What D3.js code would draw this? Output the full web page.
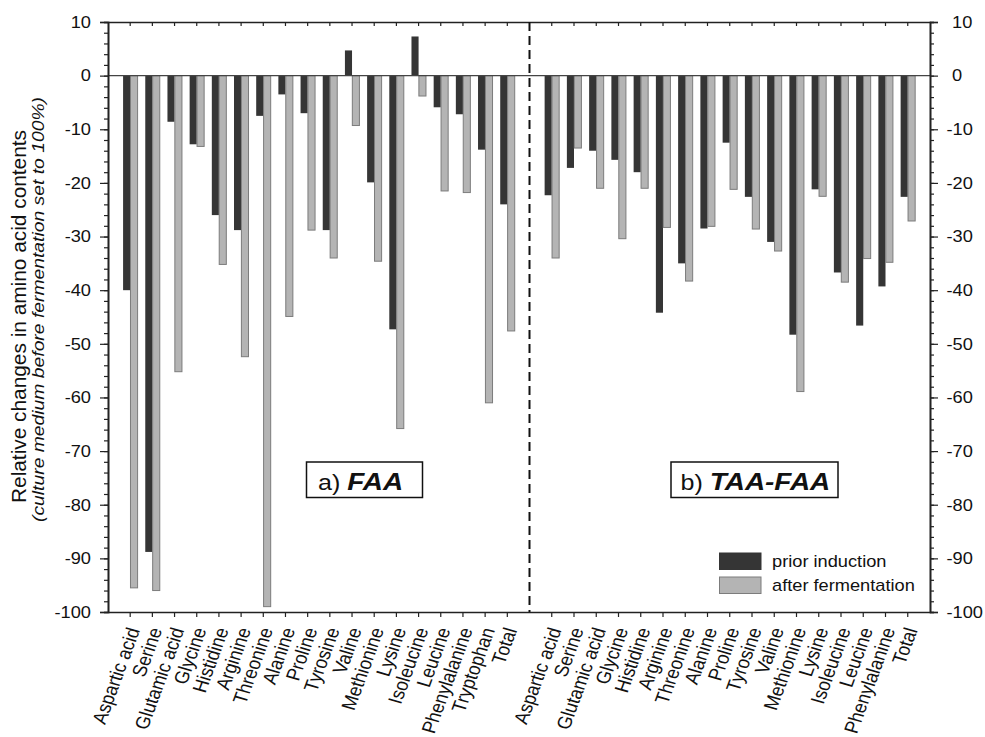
<!DOCTYPE html>
<html><head><meta charset="utf-8">
<script src="https://cdn.jsdelivr.net/npm/d3@7"></script>
<style>
body{margin:0;background:#fff}
svg{display:block}
text{font-family:"Liberation Sans",Arial,Helvetica,sans-serif;fill:#111}
</style>
</head><body>
<svg id="chart" width="985" height="737"></svg>
<script>
// ---------------- data ----------------
const categoriesA = ["Aspartic acid","Serine","Glutamic acid","Glycine","Histidine","Arginine","Threonine","Alanine","Proline","Tyrosine","Valine","Methionine","Lysine","Isoleucine","Leucine","Phenylalanine","Tryptophan","Total"];
const priorA = [-40,-88.8,-8.6,-12.8,-26,-28.8,-7.5,-3.5,-7,-28.8,4.7,-19.9,-47.3,7.3,-5.9,-7.2,-13.8,-24];
const afterA = [-95.5,-96,-55.2,-13.2,-35.2,-52.4,-99,-44.9,-28.8,-34,-9.3,-34.6,-65.8,-3.8,-21.5,-21.8,-61,-47.6];

const categoriesB = ["Aspartic acid","Serine","Glutamic acid","Glycine","Histidine","Arginine","Threonine","Alanine","Proline","Tyrosine","Valine","Methionine","Lysine","Isoleucine","Leucine","Phenylalanine","Total"];
const priorB = [-22.3,-17.2,-14,-15.7,-18,-44.2,-35,-28.5,-12.5,-22.6,-31,-48.3,-21.2,-36.7,-46.6,-39.3,-22.6];
const afterB = [-34,-13.5,-21,-30.4,-21,-28.3,-38.3,-28.1,-21.2,-28.6,-32.7,-58.9,-22.5,-38.5,-34.1,-34.8,-27.1];

const yTickValues = [10,0,-10,-20,-30,-40,-50,-60,-70,-80,-90,-100];
const yTickLabels = ["10","0","-10","-20","-30","-40","-50","-60","-70","-80","-90","-100"];
const seriesNames = ["prior induction","after fermentation"];
const panelTitles = [["a) ","FAA"],["b) ","TAA-FAA"]];
const yTitle = "Relative changes in amino acid contents";
const ySubTitle = "(culture medium before fermentation set to 100%)";

// ---------------- layout ----------------
const L = 108, R = 930, MID = 529.5, TOP = 22, BOT = 612;
const S = 1.14; // horizontal text stretch of the original figure
const DARK = "#353535", LIGHT = "#b4b4b4", LIGHT_STROKE = "#7c7c7c";

const svg = d3.select("#chart");
const y = d3.scaleLinear().domain([-100,10]).range([BOT,TOP]);
const xA = d3.scaleBand().domain(categoriesA).range([L,MID]).paddingInner(0).paddingOuter(0.5);
const xB = d3.scaleBand().domain(categoriesB).range([MID,R]).paddingInner(0).paddingOuter(0.5);

function txt(g, x, yy, str, rot, size, sx) {
  const s = sx === undefined ? S : sx;
  return g.append("text")
    .attr("transform", `translate(${x},${yy}) scale(${s},1)` + (rot ? ` rotate(${rot})` : ""))
    .attr("font-size", size)
    .text(str);
}

// bars
const panels = [
  {x: xA, cats: categoriesA, prior: priorA, after: afterA},
  {x: xB, cats: categoriesB, prior: priorB, after: afterB}
];
const bars = svg.append("g");
panels.forEach(p => {
  const step = p.x.step(), bw = step * 0.32;
  const cx = c => p.x(c) + p.x.bandwidth()/2;
  bars.selectAll(null).data(p.cats.map((c,i)=>({c, v:p.prior[i]}))).join("rect")
    .attr("x", d => cx(d.c) - bw).attr("width", bw)
    .attr("y", d => y(Math.max(0,d.v))).attr("height", d => Math.abs(y(d.v)-y(0)))
    .attr("fill", DARK);
  bars.selectAll(null).data(p.cats.map((c,i)=>({c, v:p.after[i]}))).join("rect")
    .attr("x", d => cx(d.c) + 0.3).attr("width", bw)
    .attr("y", d => y(Math.max(0,d.v))).attr("height", d => Math.abs(y(d.v)-y(0)))
    .attr("fill", LIGHT).attr("stroke", LIGHT_STROKE).attr("stroke-width", 1);
});

// zero line
svg.append("line").attr("x1",L).attr("x2",R).attr("y1",y(0)).attr("y2",y(0))
  .attr("stroke","#444").attr("stroke-width",1.2);

// y axes
const minor = d3.range(-100, 10.01, 2);
const axL = svg.append("g").attr("transform",`translate(${L},0)`)
  .call(d3.axisLeft(y).tickValues(minor).tickSize(4).tickFormat(""));
const axL2 = svg.append("g").attr("transform",`translate(${L},0)`)
  .call(d3.axisLeft(y).tickValues(yTickValues).tickSize(8).tickFormat(""));
const axR = svg.append("g").attr("transform",`translate(${R},0)`)
  .call(d3.axisRight(y).tickValues(minor).tickSize(4).tickFormat(""));
const axR2 = svg.append("g").attr("transform",`translate(${R},0)`)
  .call(d3.axisRight(y).tickValues(yTickValues).tickSize(8).tickFormat(""));
[axL,axL2,axR,axR2].forEach(a => {
  a.selectAll("path,line").attr("stroke","#222").attr("stroke-width",1.2);
  a.select(".domain").attr("stroke-width",1.6);
});
const yl = svg.append("g").attr("text-anchor","end");
yTickValues.forEach((v,i) => txt(yl, 91, y(v)+5.8, yTickLabels[i], 0, 16));
const yr = svg.append("g").attr("text-anchor","start");
yTickValues.forEach((v,i) => txt(yr, v < 0 ? 946.5 : 952, y(v)+5.8, yTickLabels[i], 0, 16));

// top & bottom x axes
const topAxA = svg.append("g").attr("transform",`translate(0,${TOP})`).call(d3.axisBottom(xA).tickSize(4).tickFormat("").tickSizeOuter(0));
const topAxB = svg.append("g").attr("transform",`translate(0,${TOP})`).call(d3.axisBottom(xB).tickSize(4).tickFormat("").tickSizeOuter(0));
const botAxA = svg.append("g").attr("transform",`translate(0,${BOT})`).call(d3.axisBottom(xA).tickSize(5).tickFormat("").tickSizeOuter(0));
const botAxB = svg.append("g").attr("transform",`translate(0,${BOT})`).call(d3.axisBottom(xB).tickSize(5).tickFormat("").tickSizeOuter(0));
[topAxA,topAxB,botAxA,botAxB].forEach(a => {
  a.selectAll("path,line").attr("stroke","#222").attr("stroke-width",1.2);
  a.select(".domain").attr("stroke-width",1.6);
});

// category labels
panels.forEach(p => {
  const g = svg.append("g").attr("text-anchor","end");
  p.cats.forEach(c => {
    const cx = p.x(c) + p.x.bandwidth()/2;
    txt(g, cx + 10, BOT + 18, c, -72, 17.5);
  });
});

// dashed divider
svg.append("line").attr("x1",MID).attr("x2",MID).attr("y1",TOP).attr("y2",BOT)
  .attr("stroke","#111").attr("stroke-width",2).attr("stroke-dasharray","9,5");

// panel title boxes
const boxes = [{x:306.5, w:116, tx:318}, {x:671, w:167, tx:680.5}];
boxes.forEach((b,i) => {
  svg.append("rect").attr("x",b.x).attr("y",462).attr("width",b.w).attr("height",35.5)
    .attr("fill","#fff").attr("stroke","#111").attr("stroke-width",1.5);
  const t = txt(svg, b.tx, 489.5, "", 0, 22).attr("text-anchor","start");
  t.append("tspan").text(panelTitles[i][0]);
  t.append("tspan").attr("font-size",24.5).attr("font-weight","bold").attr("font-style","italic").text(panelTitles[i][1]);
});

// legend
const leg = svg.append("g");
[DARK, LIGHT].forEach((col,i) => {
  leg.append("rect").attr("x",719.5).attr("y",553 + i*24).attr("width",41.5).attr("height",16.5)
    .attr("fill",col).attr("stroke", i ? LIGHT_STROKE : DARK).attr("stroke-width",1);
  txt(leg, 772, 567 + i*24, seriesNames[i], 0, 16);
});

// y title
txt(svg, 26, 316.5, yTitle, -90, 20, 1).attr("text-anchor","middle")
  .attr("textLength",373).attr("lengthAdjust","spacingAndGlyphs");
txt(svg, 43.5, 309.5, ySubTitle, -90, 16, 1).attr("text-anchor","middle").attr("font-style","italic")
  .attr("textLength",425).attr("lengthAdjust","spacingAndGlyphs");
</script>
</body></html>
